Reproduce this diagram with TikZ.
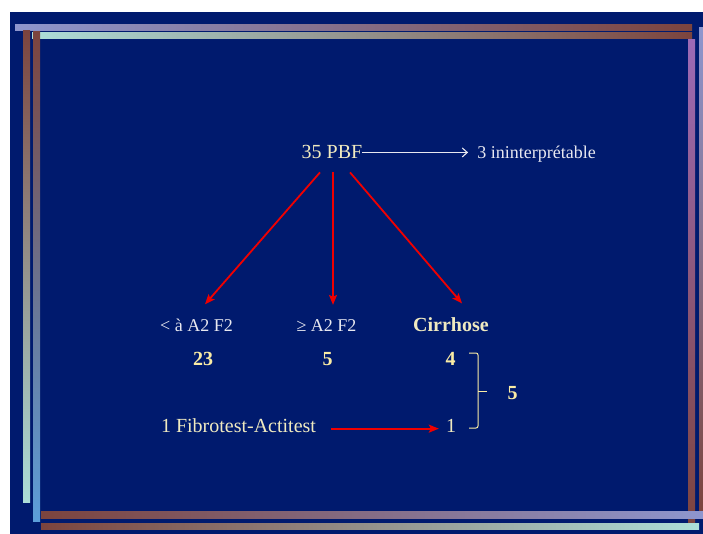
\documentclass[tikz,border=0pt]{standalone}
\usepackage{fontspec}
\setmainfont{Liberation Serif}
\usetikzlibrary{arrows.meta}
\definecolor{slidebg}{RGB}{0,26,110}
\definecolor{cream}{RGB}{240,234,192}
\definecolor{paleyellow}{RGB}{250,236,165}
\definecolor{offwhite}{RGB}{232,232,240}
\definecolor{arrowred}{RGB}{240,0,0}
\definecolor{lavender}{RGB}{142,150,206}
\definecolor{steelblue}{RGB}{102,124,190}
\definecolor{lightcyan}{RGB}{172,222,216}
\definecolor{teal}{RGB}{102,190,190}
\definecolor{brownish}{RGB}{124,68,62}
\definecolor{skyblue}{RGB}{92,158,218}
\definecolor{violet}{RGB}{156,106,182}
\definecolor{plum}{RGB}{140,78,130}
\begin{document}
\begin{tikzpicture}[x=1pt,y=-1pt,
  txt/.style={inner sep=0pt,anchor=base,text=cream,font=\fontsize{20}{24}\selectfont},
  smalltxt/.style={txt,font=\fontsize{18}{22}\selectfont},
  num/.style={txt,text=paleyellow,font=\fontsize{20}{24}\selectfont\bfseries},
  redarrow/.style={-{Stealth[length=10pt,width=8pt,inset=2pt]},draw=arrowred,fill=arrowred,line width=1.8pt}]
\useasboundingbox (0,0) rectangle (703,534);
\fill[white] (0,0) rectangle (703,534);
\fill[slidebg] (10,12) rectangle (703,534);

%frame bars
\shade[left color=lavender,middle color=steelblue,right color=brownish] (15,25) rectangle (692,31);
\shade[left color=lightcyan,middle color=teal,right color=brownish] (32,33) rectangle (692,39);
\shade[top color=brownish,middle color=teal,bottom color=lightcyan] (23,31) rectangle (30,502);
\shade[top color=brownish,bottom color=skyblue] (33,32) rectangle (40,521);
\shade[top color=violet,middle color=plum,bottom color=brownish] (688,40) rectangle (695,527);
\shade[top color=lavender,middle color=steelblue,bottom color=brownish] (699,28) rectangle (703,510);
\shade[left color=brownish,middle color=steelblue,right color=lavender] (41,511) rectangle (703,518);
\shade[left color=brownish,middle color=teal,right color=lightcyan] (41,523) rectangle (699,529);

%biopsies
\node[txt] (pbf) at (332,159) {35 PBF};
\node[smalltxt,text=offwhite] (uninterp) at (536.5,159) {3 ininterprétable};
\draw[-{Straight Barb[length=5pt,width=9pt]},offwhite,line width=1.1pt] (pbf.east) -- ([xshift=-9pt]pbf.east -| uninterp.west);

%fibrosis classes
\node[smalltxt,text=offwhite] (below) at (196.5,331) {< à A2 F2};
\node[smalltxt,text=offwhite] (above) at (326.5,331) {≥ A2 F2};
\node[num,text=cream] (cirr) at (451,331.5) {Cirrhose};
\draw[redarrow] ([xshift=-12pt,yshift=-13pt]pbf.south) -- ([xshift=8.5pt,yshift=14pt]below.north);
\draw[redarrow] ([xshift=1pt,yshift=-13pt]pbf.south) -- ([xshift=6.5pt,yshift=14pt]above.north);
\draw[redarrow] ([xshift=18pt,yshift=-13pt]pbf.south) -- ([xshift=11pt,yshift=14pt]cirr.north);

%counts
\node[num] (n23) at (203,365) {23};
\node[num] (n5) at (327.5,365) {5};
\node[num] (n4) at (450.5,365) {4};
\node[txt] (fib) at (238.5,432.5) {1 Fibrotest-Actitest};
\node[txt] (n1) at (451,432.5) {1};
\draw[redarrow] ([xshift=15pt,yshift=-3pt]fib.east) -- ([xshift=-7pt,yshift=-3pt]fib.east -| n1.west);

%total bracket
\draw[paleyellow,line width=1pt,rounded corners=2pt] (469,353) -- (478,353) -- (478,428) -- (469,428);
\draw[paleyellow,line width=1pt] (478,391) coordinate (brmid) -- (487,391);
\node[num] (total) at (512.5,399) {5};
\end{tikzpicture}
\end{document}
